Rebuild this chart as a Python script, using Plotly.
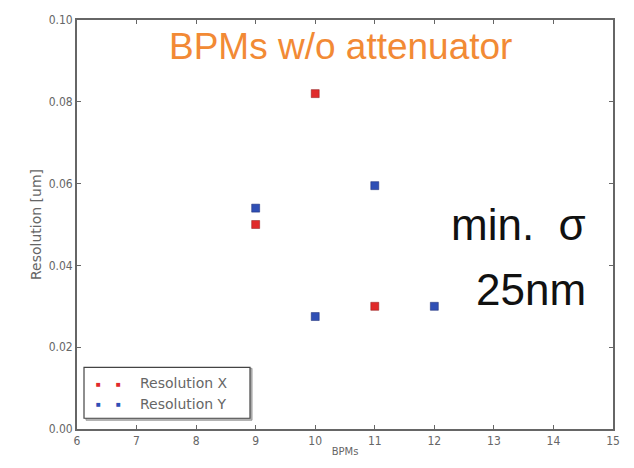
import plotly.graph_objects as go

bpm_x = [9, 10, 11]
res_x = [0.050, 0.082, 0.030]
bpm_y = [9, 10, 11, 12]
res_y = [0.054, 0.0275, 0.0595, 0.030]
x_ticks = [6, 7, 8, 9, 10, 11, 12, 13, 14, 15]
y_ticks = [0.00, 0.02, 0.04, 0.06, 0.08, 0.10]

RED = "#e02a2a"
BLUE = "#2f4fb5"

fig = go.Figure()
fig.add_trace(go.Scatter(x=bpm_x, y=res_x, mode="markers", name="Resolution X",
                         marker=dict(symbol="square", size=8, color=RED,
                                     line=dict(width=0.5, color="#8a1a1a"))))
fig.add_trace(go.Scatter(x=bpm_y, y=res_y, mode="markers", name="Resolution Y",
                         marker=dict(symbol="square", size=8, color=BLUE,
                                     line=dict(width=0.5, color="#1a2a70"))))

axis_common = dict(showgrid=False, zeroline=False, showline=True, mirror="ticks",
                   linecolor="#666", linewidth=1.8, ticks="inside", ticklen=4,
                   tickcolor="#666", tickfont=dict(family="DejaVu Sans Condensed, DejaVu Sans", size=12, color="#666"))
fig.update_xaxes(range=[6, 15], tickvals=x_ticks, ticktext=[str(v) for v in x_ticks],
                 title=dict(text="BPMs", font=dict(family="DejaVu Sans", size=10, color="#666"), standoff=1),
                 **axis_common)
fig.update_yaxes(range=[0, 0.10], tickvals=y_ticks, ticktext=[f"{v:.2f}" for v in y_ticks],
                 title=dict(text="Resolution [um]", font=dict(family="DejaVu Sans", size=14, color="#666"), standoff=4),
                 **axis_common)

# legend box (matplotlib style, two points per entry)
fig.add_shape(type="rect", xref="paper", yref="paper",
              x0=(86-77)/536, x1=(252-77)/536, y0=(438-429)/418, y1=(438-376)/418,
              line=dict(color="#999", width=1), fillcolor="#bbb")
fig.add_shape(type="rect", xref="paper", yref="paper",
              x0=(84-77)/536, x1=(250-77)/536, y0=(438-427)/418, y1=(438-375)/418,
              line=dict(color="#444", width=1.2), fillcolor="white")
for i, (lab, col) in enumerate([("Resolution X", RED), ("Resolution Y", BLUE)]):
    yy = (438-(391+21*i))/418
    for mx in (98, 118):
        fig.add_annotation(xref="paper", yref="paper", x=(mx-77)/536, y=yy, text="■",
                           showarrow=False, font=dict(size=8, color=col), xanchor="center", yanchor="middle")
    fig.add_annotation(xref="paper", yref="paper", x=(138-77)/536, y=yy, text=lab,
                       showarrow=False, font=dict(family="DejaVu Sans", size=14, color="#666"),
                       xanchor="left", yanchor="middle")

fig.add_annotation(xref="paper", yref="paper", x=(340-77)/536, y=(438-47)/418, text="BPMs w/o attenuator",
                   showarrow=False, font=dict(family="Liberation Sans", size=37, color="#f28a35"),
                   xanchor="center", yanchor="middle")
fig.add_annotation(xref="paper", yref="paper", x=(518-77)/536, y=(438-229)/418, text="min.  σ",
                   showarrow=False, font=dict(family="Liberation Sans", size=44, color="#111"),
                   xanchor="center", yanchor="middle")
fig.add_annotation(xref="paper", yref="paper", x=(531-77)/536, y=(438-295)/418, text="25nm",
                   showarrow=False, font=dict(family="Liberation Sans", size=44, color="#111"),
                   xanchor="center", yanchor="middle")

fig.update_layout(width=634, height=468, showlegend=False,
                  margin=dict(l=77, r=21, t=20, b=30),
                  plot_bgcolor="white", paper_bgcolor="white")
fig.write_html("out.html")
